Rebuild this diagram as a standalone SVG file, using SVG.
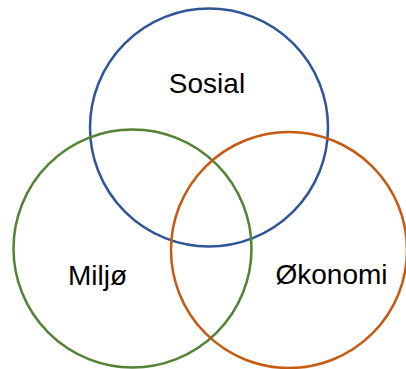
<svg xmlns="http://www.w3.org/2000/svg" width="406" height="369" viewBox="0 0 406 369">
<style>
.c{fill:none;stroke-width:2.5}
.t{font-family:"Liberation Sans",Arial,sans-serif;font-size:28px;fill:#000;text-anchor:middle}
</style>
<rect width="406" height="369" fill="#fff"/>
<g id="sosial"><circle class="c" cx="209" cy="127.5" r="119" stroke="#2F5597"/><text class="t" x="207" y="93">Sosial</text></g>
<g id="miljo"><circle class="c" cx="132.5" cy="248.5" r="119" stroke="#548235"/><text class="t" x="97.5" y="285">Miljø</text></g>
<g id="okonomi"><circle class="c" cx="289" cy="250" r="118" stroke="#C55A11"/><text class="t" x="331.5" y="284">Økonomi</text></g>
<g id="connectors"/>
</svg>
